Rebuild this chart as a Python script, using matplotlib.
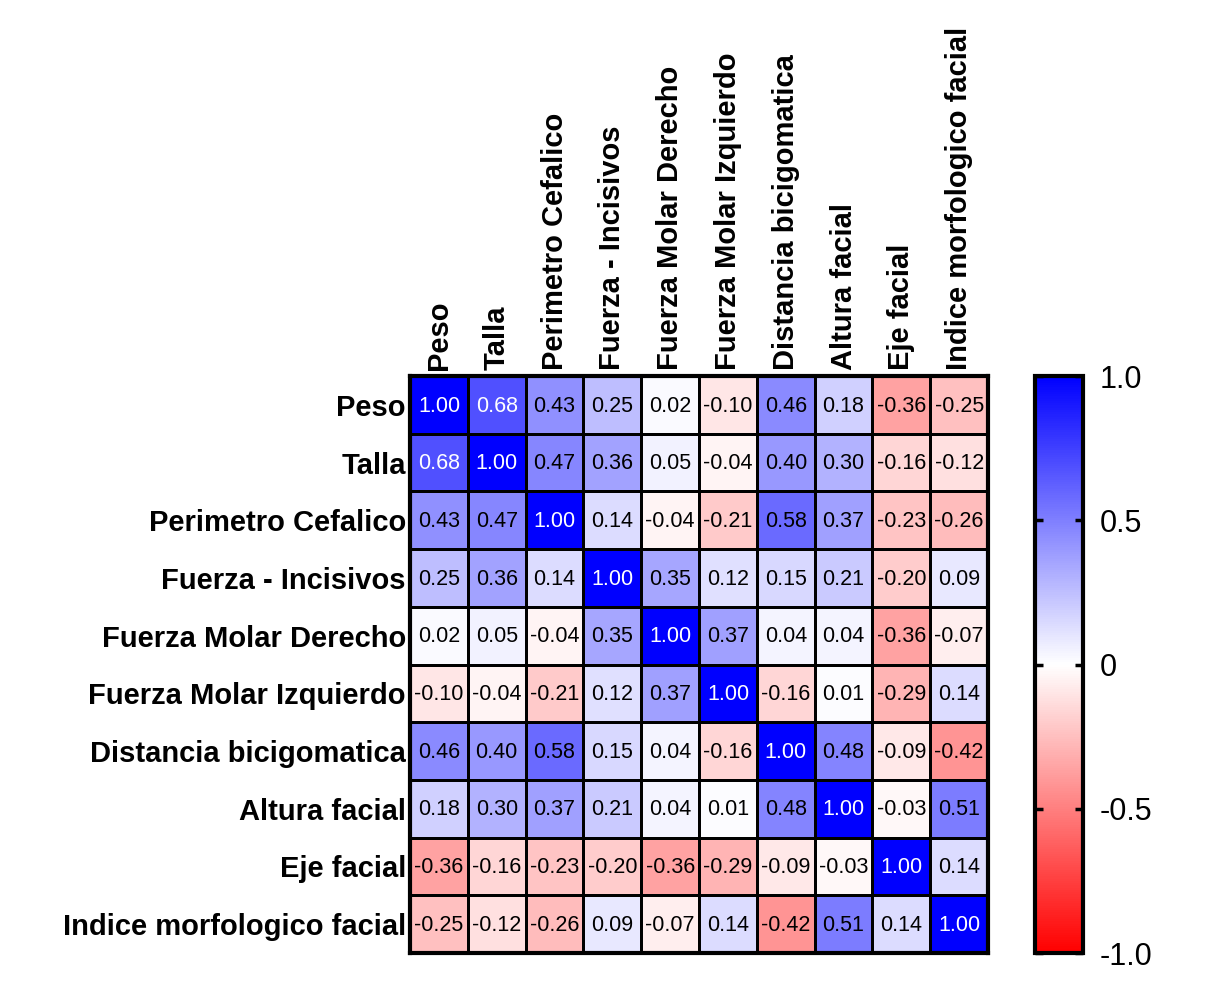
import numpy as np
import matplotlib
matplotlib.use("Agg")
import matplotlib.pyplot as plt
from matplotlib.colors import LinearSegmentedColormap

labels = ["Peso", "Talla", "Perimetro Cefalico", "Fuerza - Incisivos",
          "Fuerza Molar Derecho", "Fuerza Molar Izquierdo",
          "Distancia bicigomatica", "Altura facial", "Eje facial",
          "Indice morfologico facial"]

r_peso = [1.00, 0.68, 0.43, 0.25, 0.02, -0.10, 0.46, 0.18, -0.36, -0.25]
r_talla = [0.68, 1.00, 0.47, 0.36, 0.05, -0.04, 0.40, 0.30, -0.16, -0.12]
r_pc = [0.43, 0.47, 1.00, 0.14, -0.04, -0.21, 0.58, 0.37, -0.23, -0.26]
r_fi = [0.25, 0.36, 0.14, 1.00, 0.35, 0.12, 0.15, 0.21, -0.20, 0.09]
r_fmd = [0.02, 0.05, -0.04, 0.35, 1.00, 0.37, 0.04, 0.04, -0.36, -0.07]
r_fmi = [-0.10, -0.04, -0.21, 0.12, 0.37, 1.00, -0.16, 0.01, -0.29, 0.14]
r_db = [0.46, 0.40, 0.58, 0.15, 0.04, -0.16, 1.00, 0.48, -0.09, -0.42]
r_af = [0.18, 0.30, 0.37, 0.21, 0.04, 0.01, 0.48, 1.00, -0.03, 0.51]
r_ef = [-0.36, -0.16, -0.23, -0.20, -0.36, -0.29, -0.09, -0.03, 1.00, 0.14]
r_imf = [-0.25, -0.12, -0.26, 0.09, -0.07, 0.14, -0.42, 0.51, 0.14, 1.00]

cbar_ticks = [-1.0, -0.5, 0, 0.5, 1.0]
cbar_ticklabels = ["-1.0", "-0.5", "0", "0.5", "1.0"]

M = np.array([r_peso, r_talla, r_pc, r_fi, r_fmd, r_fmi, r_db, r_af, r_ef, r_imf])
n = len(labels)

plt.rcParams['font.family'] = ['Liberation Sans', 'DejaVu Sans']

cmap = LinearSegmentedColormap.from_list("rwb", ["#ff0000", "#ffffff", "#0000ff"])

fig = plt.figure(figsize=(12.11, 9.82), dpi=100)
ax = fig.add_axes([0.3386, 0.0295, 0.4773, 0.5876])
im = ax.pcolormesh(np.arange(n + 1), np.arange(n + 1), M, cmap=cmap, vmin=-1, vmax=1,
                   edgecolors="black", linewidth=1.8)
ax.set_xlim(0, n)
ax.set_ylim(n, 0)
for i in range(n):
    for j in range(n):
        v = M[i, j]
        ax.text(j + 0.5, i + 0.52, f"{v:.2f}", ha="center", va="center",
                fontsize=15.5, color="white" if v > 0.6 else "black")

ax.set_xticks(np.arange(n) + 0.5)
ax.set_yticks(np.arange(n) + 0.5)
ax.set_xticklabels(labels, rotation=90, fontsize=21, fontweight="bold")
ax.set_yticklabels(labels, fontsize=21, fontweight="bold")
ax.xaxis.tick_top()
ax.tick_params(axis="x", length=0, pad=4)
ax.tick_params(axis="y", length=0, pad=3)
for s in ax.spines.values():
    s.set_linewidth(3)

cax = fig.add_axes([0.8547, 0.0295, 0.0396, 0.5876])
cb = fig.colorbar(im, cax=cax)
cb.set_ticks(cbar_ticks)
cb.set_ticklabels(cbar_ticklabels)
cb.outline.set_linewidth(3)
cax.tick_params(direction="in", left=True, right=True, length=6, width=2.5,
                labelsize=22, pad=12)

fig.savefig("out.png", dpi=100)
